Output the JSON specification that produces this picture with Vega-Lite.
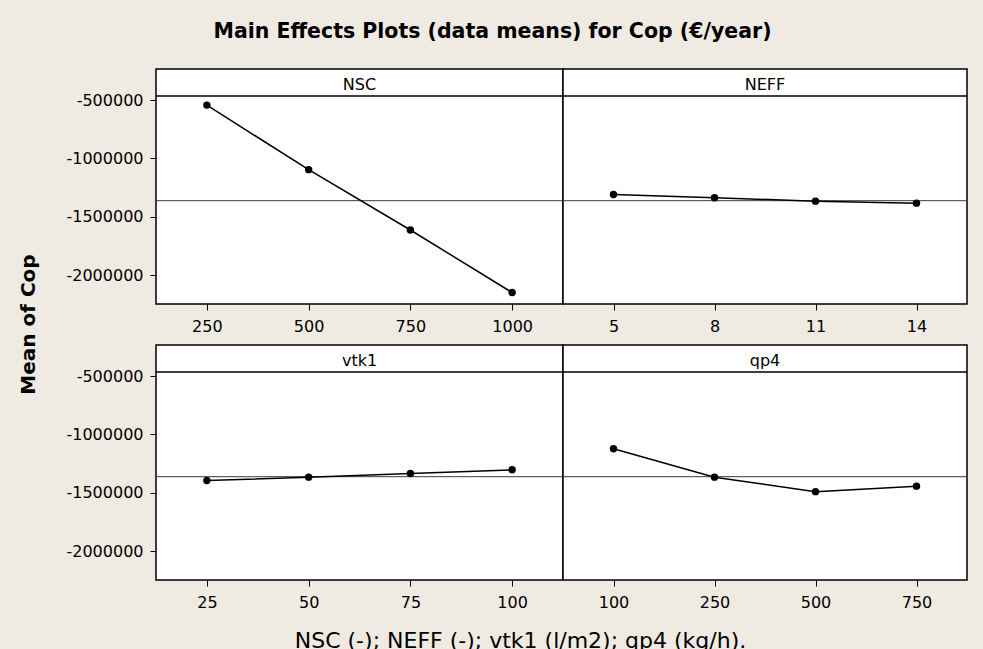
{
  "$schema": "https://vega.github.io/schema/vega-lite/v6.json",
  "background": "#EFEBE2",
  "padding": {"left": 16, "right": 16, "top": 21, "bottom": 0},
  "title": {
    "text": "Main Effects Plots (data means) for Cop (€/year)",
    "font": "DejaVu Sans",
    "fontSize": 20.5,
    "fontWeight": "bold",
    "color": "#000000",
    "anchor": "middle",
    "frame": "bounds",
    "offset": 26
  },
  "datasets": {
    "effects": [
      {"factor": "NSC", "level": 250, "mean_cop": -543000},
      {"factor": "NSC", "level": 500, "mean_cop": -1096000},
      {"factor": "NSC", "level": 750, "mean_cop": -1613000},
      {"factor": "NSC", "level": 1000, "mean_cop": -2149000},
      {"factor": "NEFF", "level": 5, "mean_cop": -1309000},
      {"factor": "NEFF", "level": 8, "mean_cop": -1337000},
      {"factor": "NEFF", "level": 11, "mean_cop": -1366000},
      {"factor": "NEFF", "level": 14, "mean_cop": -1383000},
      {"factor": "vtk1", "level": 25, "mean_cop": -1395000},
      {"factor": "vtk1", "level": 50, "mean_cop": -1366000},
      {"factor": "vtk1", "level": 75, "mean_cop": -1335000},
      {"factor": "vtk1", "level": 100, "mean_cop": -1303000},
      {"factor": "qp4", "level": 100, "mean_cop": -1122000},
      {"factor": "qp4", "level": 250, "mean_cop": -1366000},
      {"factor": "qp4", "level": 500, "mean_cop": -1490000},
      {"factor": "qp4", "level": 750, "mean_cop": -1443000}
    ],
    "overall": [{"grand_mean": -1362000}],
    "headers": [
      {"factor": "NSC"}, {"factor": "NEFF"}, {"factor": "vtk1"}, {"factor": "qp4"}
    ]
  },
  "spacing": 23,
  "config": {
    "view": {"stroke": "#000000", "strokeWidth": 1.5, "fill": "#FFFFFF"},
    "font": "DejaVu Sans",
    "axis": {
      "grid": false,
      "domain": false,
      "tickSize": 6,
      "tickColor": "#000000",
      "labelColor": "#000000",
      "labelFontSize": 16,
      "labelPadding": 7,
      "titleColor": "#000000"
    },
    "axisX": {"labelAngle": 0, "labelPadding": 8}
  },
  "hconcat": [
    {
      "width": 24,
      "height": 511,
      "view": {"stroke": "transparent", "fill": "transparent"},
      "data": {"name": "overall"},
      "mark": {"type": "text", "angle": 270, "fontSize": 20, "fontWeight": "bold", "color": "#000000", "align": "center", "baseline": "middle"},
      "encoding": {"text": {"value": "Mean of Cop"}}
    },
    {
      "spacing": 9,
      "vconcat": [
        {
          "spacing": 0,
          "bounds": "flush",
          "hconcat": [
            {
              "width": 407,
              "height": 235,
              "layer": [
                {
                  "data": {"name": "headers"},
                  "transform": [{"filter": "datum.factor == 'NSC'"}],
                  "mark": {"type": "rule", "color": "#000000", "strokeWidth": 1.5},
                  "encoding": {"y": {"datum": -465000, "type": "quantitative"}}
                },
                {
                  "data": {"name": "headers"},
                  "transform": [{"filter": "datum.factor == 'NSC'"}],
                  "mark": {"type": "text", "fontSize": 16, "color": "#000000"},
                  "encoding": {"text": {"field": "factor"}, "y": {"datum": -370000, "type": "quantitative"}}
                },
                {
                  "data": {"name": "overall"},
                  "mark": {"type": "rule", "color": "#3A3A3A", "strokeWidth": 1},
                  "encoding": {"y": {"field": "grand_mean", "type": "quantitative"}}
                },
                {
                  "data": {"name": "effects"},
                  "transform": [{"filter": "datum.factor == 'NSC'"}],
                  "mark": {"type": "line", "color": "#000000", "strokeWidth": 1.5, "point": {"filled": true, "size": 55, "color": "#000000"}},
                  "encoding": {
                    "x": {"field": "level", "type": "ordinal", "scale": {"type": "point", "padding": 0.5}, "axis": {"title": null}},
                    "y": {
                      "field": "mean_cop", "type": "quantitative",
                      "scale": {"domain": [-2247000, -233700], "nice": false, "zero": false},
                      "axis": {
                        "values": [-500000, -1000000, -1500000, -2000000],
                        "labelExpr": "datum.value + ''",
                        "title": null
                      }
                    }
                  }
                }
              ]
            },
            {
              "width": 404,
              "height": 235,
              "layer": [
                {
                  "data": {"name": "headers"},
                  "transform": [{"filter": "datum.factor == 'NEFF'"}],
                  "mark": {"type": "rule", "color": "#000000", "strokeWidth": 1.5},
                  "encoding": {"y": {"datum": -465000, "type": "quantitative"}}
                },
                {
                  "data": {"name": "headers"},
                  "transform": [{"filter": "datum.factor == 'NEFF'"}],
                  "mark": {"type": "text", "fontSize": 16, "color": "#000000"},
                  "encoding": {"text": {"field": "factor"}, "y": {"datum": -370000, "type": "quantitative"}}
                },
                {
                  "data": {"name": "overall"},
                  "mark": {"type": "rule", "color": "#3A3A3A", "strokeWidth": 1},
                  "encoding": {"y": {"field": "grand_mean", "type": "quantitative"}}
                },
                {
                  "data": {"name": "effects"},
                  "transform": [{"filter": "datum.factor == 'NEFF'"}],
                  "mark": {"type": "line", "color": "#000000", "strokeWidth": 1.5, "point": {"filled": true, "size": 55, "color": "#000000"}},
                  "encoding": {
                    "x": {"field": "level", "type": "ordinal", "scale": {"type": "point", "padding": 0.5}, "axis": {"title": null}},
                    "y": {
                      "field": "mean_cop", "type": "quantitative",
                      "scale": {"domain": [-2247000, -233700], "nice": false, "zero": false},
                      "axis": {"labels": false, "ticks": false, "title": null}
                    }
                  }
                }
              ]
            }
          ]
        },
        {
          "spacing": 0,
          "bounds": "flush",
          "hconcat": [
            {
              "width": 407,
              "height": 235,
              "layer": [
                {
                  "data": {"name": "headers"},
                  "transform": [{"filter": "datum.factor == 'vtk1'"}],
                  "mark": {"type": "rule", "color": "#000000", "strokeWidth": 1.5},
                  "encoding": {"y": {"datum": -465000, "type": "quantitative"}}
                },
                {
                  "data": {"name": "headers"},
                  "transform": [{"filter": "datum.factor == 'vtk1'"}],
                  "mark": {"type": "text", "fontSize": 16, "color": "#000000"},
                  "encoding": {"text": {"field": "factor"}, "y": {"datum": -370000, "type": "quantitative"}}
                },
                {
                  "data": {"name": "overall"},
                  "mark": {"type": "rule", "color": "#3A3A3A", "strokeWidth": 1},
                  "encoding": {"y": {"field": "grand_mean", "type": "quantitative"}}
                },
                {
                  "data": {"name": "effects"},
                  "transform": [{"filter": "datum.factor == 'vtk1'"}],
                  "mark": {"type": "line", "color": "#000000", "strokeWidth": 1.5, "point": {"filled": true, "size": 55, "color": "#000000"}},
                  "encoding": {
                    "x": {
                      "field": "level", "type": "ordinal", "scale": {"type": "point", "padding": 0.5},
                      "axis": {
                        "title": "NSC (-); NEFF (-); vtk1 (l/m2); qp4 (kg/h).",
                        "titleFontSize": 22,
                        "titleFontWeight": "normal",
                        "titleAlign": "center",
                        "titleBaseline": "alphabetic",
                        "titleX": 364,
                        "titleY": 67
                      }
                    },
                    "y": {
                      "field": "mean_cop", "type": "quantitative",
                      "scale": {"domain": [-2247000, -233700], "nice": false, "zero": false},
                      "axis": {
                        "values": [-500000, -1000000, -1500000, -2000000],
                        "labelExpr": "datum.value + ''",
                        "title": null
                      }
                    }
                  }
                }
              ]
            },
            {
              "width": 404,
              "height": 235,
              "layer": [
                {
                  "data": {"name": "headers"},
                  "transform": [{"filter": "datum.factor == 'qp4'"}],
                  "mark": {"type": "rule", "color": "#000000", "strokeWidth": 1.5},
                  "encoding": {"y": {"datum": -465000, "type": "quantitative"}}
                },
                {
                  "data": {"name": "headers"},
                  "transform": [{"filter": "datum.factor == 'qp4'"}],
                  "mark": {"type": "text", "fontSize": 16, "color": "#000000"},
                  "encoding": {"text": {"field": "factor"}, "y": {"datum": -370000, "type": "quantitative"}}
                },
                {
                  "data": {"name": "overall"},
                  "mark": {"type": "rule", "color": "#3A3A3A", "strokeWidth": 1},
                  "encoding": {"y": {"field": "grand_mean", "type": "quantitative"}}
                },
                {
                  "data": {"name": "effects"},
                  "transform": [{"filter": "datum.factor == 'qp4'"}],
                  "mark": {"type": "line", "color": "#000000", "strokeWidth": 1.5, "point": {"filled": true, "size": 55, "color": "#000000"}},
                  "encoding": {
                    "x": {"field": "level", "type": "ordinal", "scale": {"type": "point", "padding": 0.5}, "axis": {"title": null}},
                    "y": {
                      "field": "mean_cop", "type": "quantitative",
                      "scale": {"domain": [-2247000, -233700], "nice": false, "zero": false},
                      "axis": {"labels": false, "ticks": false, "title": null}
                    }
                  }
                }
              ]
            }
          ]
        }
      ]
    }
  ]
}
